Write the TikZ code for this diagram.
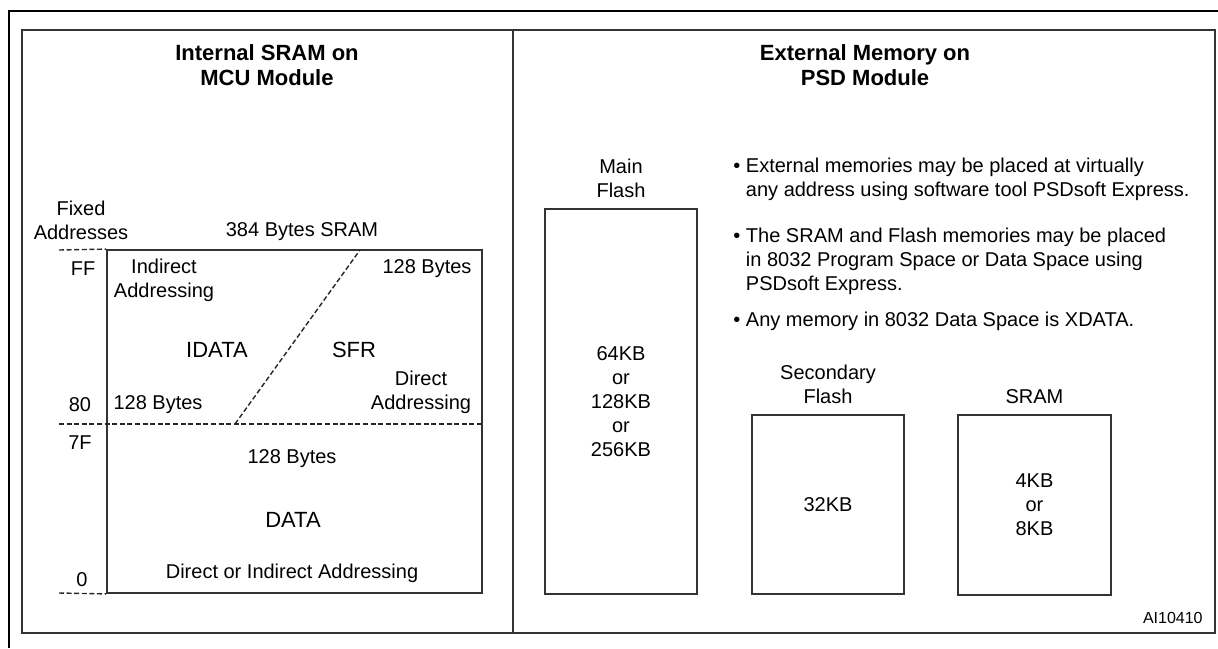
\documentclass[tikz,border=0pt]{standalone}
\usepackage{fontspec}
\setmainfont{Liberation Sans}
\usetikzlibrary{positioning}

\begin{document}
\begin{tikzpicture}[x=0.5pt, y=-0.5pt, node distance=5pt,
  block/.style={draw=black!80, line width=0.9pt, inner sep=0pt, align=center},
  lbl/.style={inner sep=0pt, align=center},
  big/.style={lbl, font=\fontsize{11}{13}\selectfont},
  heading/.style={lbl, font=\fontsize{11}{12.5}\selectfont\bfseries},
  addr/.style={draw=black!85, line width=0.7pt, dash pattern=on 2.5pt off 1.3pt}]

  \useasboundingbox (0,0) rectangle (1218,648);

  % Frames
  \draw[line width=1.3pt] (1218,11) -- (9,11) -- (9,648);
  \draw[black!80, line width=0.9pt] (22,30) rectangle (1215,633);
  \draw[black!80, line width=0.9pt] (513,30) -- (513,633);

  % Headings
  \node[heading] (intl) at (267,65) {Internal SRAM on\\MCU Module};
  \node[heading] (extl) at (865,65) {External Memory on\\PSD Module};

  % Internal SRAM
  \node[block, minimum width=187.5pt, minimum height=171.5pt] (sram) at (294.5,421.5) {};
  \coordinate (t0) at (59,250);
  \coordinate (m0) at (59,424);
  \coordinate (b0) at (59,593);
  \coordinate (dlo) at (235,424);
  \coordinate (dhi) at (360,250);
  \draw[addr] (t0) -- (sram.north west);
  \draw[addr] (b0) -- (sram.south west);
  \draw[addr] (m0) -- (m0 -| sram.east);
  \draw[addr] (dlo) -- (dhi);

  % Addresses
  \node[lbl] (fixed) at (81,220.5) {Fixed\\Addresses};
  \node[lbl] (aff) at (83,269) {FF};
  \node[lbl] (a80) at (80,405) {80};
  \node[lbl] (a7f) at (80,443) {7F};
  \node[lbl] (a0) at (82,580) {0};

  % Labels inside
  \node[lbl] (sramt) at (302,232) {384 Bytes SRAM};
  \node[lbl] (ind) at (164,280) {Indirect\\Addressing};
  \node[lbl] (hi128) at (427,269) {128 Bytes};
  \node[big] (idata) at (217,350) {IDATA};
  \node[big] (sfr) at (354,350) {SFR};
  \node[lbl] (dir) at (421,392) {Direct\\Addressing};
  \node[lbl] (lo128) at (158,405) {128 Bytes};
  \node[lbl] (dat128) at (292,459) {128 Bytes};
  \node[big] (data) at (293,520) {DATA};
  \node[lbl] (dirind) at (292,573) {Direct or Indirect Addressing};

  % External memories
  \node[block, minimum width=76pt, minimum height=192.5pt] (mflash) at (621,401.5) {64KB\\or\\128KB\\or\\256KB};
  \node[lbl, above=of mflash] (mflashl) {Main\\Flash};
  \node[block, minimum width=76pt, minimum height=89.5pt] (sflash) at (828,504.5) {32KB};
  \node[lbl, above=of sflash] (sflashl) {Secondary\\Flash};
  \node[block, minimum width=76.5pt, minimum height=90pt] (xsram) at (1034.5,505) {4KB\\or\\8KB};
  \node[lbl, above=of xsram] (xsraml) {SRAM};

  % Notes
  \node[lbl, align=left, anchor=west] (note1) at (733,179.5) {\textbullet\ External memories may be placed at virtually\\\phantom{\textbullet\ }any address using software tool PSDsoft Express.};
  \node[lbl, align=left, anchor=west] (note2) at (733,261) {\textbullet\ The SRAM and Flash memories may be placed\\\phantom{\textbullet\ }in 8032 Program Space or Data Space using\\\phantom{\textbullet\ }PSDsoft Express.};
  \node[lbl, align=left, anchor=west] (note3) at (733,321) {\textbullet\ Any memory in 8032 Data Space is XDATA.};

  \node[lbl, font=\fontsize{8}{10}\selectfont, anchor=east] (ai) at (1203,618) {AI10410};

\end{tikzpicture}
\end{document}
